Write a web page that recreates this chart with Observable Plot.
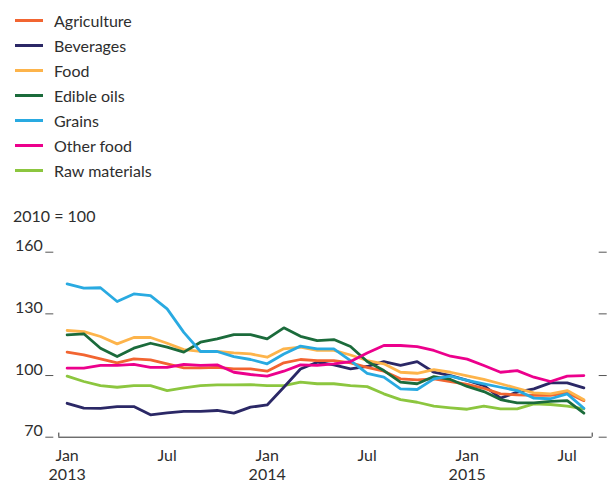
<!DOCTYPE html>
<html>
<head>
<meta charset="utf-8">
<script src="https://cdn.jsdelivr.net/npm/d3@7"></script>
<script src="https://cdn.jsdelivr.net/npm/@observablehq/plot@0.6"></script>
<style>
  body { margin: 0; background: #fff; font-family: Lato, "Open Sans", sans-serif; color: #2e2e2e; }
  #wrap { position: relative; width: 610px; height: 484px; overflow: hidden; }
  #legend { position: absolute; left: 15px; top: 8px; }
  .row { height: 25px; display: flex; align-items: center; font-size: 16px; }
  .sw { width: 28px; height: 3px; margin-right: 11px; }
  #note { position: absolute; left: 13px; top: 206px; font-size: 16px; line-height: 20px; }
  #chart { position: absolute; left: 0; top: 230px; }
</style>
</head>
<body>
<div id="wrap">
  <div id="legend"></div>
  <div id="note">2010 = 100</div>
  <div id="chart"></div>
</div>
<script>
// Monthly, Jan 2013 .. Aug 2015 (index 0..31)
const months = ["2013-01","2013-02","2013-03","2013-04","2013-05","2013-06","2013-07","2013-08","2013-09","2013-10","2013-11","2013-12",
  "2014-01","2014-02","2014-03","2014-04","2014-05","2014-06","2014-07","2014-08","2014-09","2014-10","2014-11","2014-12",
  "2015-01","2015-02","2015-03","2015-04","2015-05","2015-06","2015-07","2015-08"];

const agriculture = [111.4,110,108.1,106.2,108.1,107.6,105.7,103.7,103.7,104,103.2,103.2,102.1,106.2,107.8,107.3,107.3,106.2,104,102.1,98.4,97.9,98.4,97.1,95.7,93.8,91.1,90.6,90.3,90.3,91.6,87.8];
const beverages = [86.5,84.1,84,84.9,84.9,80.9,81.8,82.6,82.6,83,81.7,84.6,85.7,94.3,103.2,106.5,105.2,103.2,104.4,106.8,104.9,106.8,101.6,100,97.6,95.1,89,91.9,93.5,96.4,96.4,94];
const food = [121.9,121.4,119,115.4,118.5,118.5,115.7,112.6,111.7,111.7,111,110.5,108.9,113,113.8,112.2,112.2,110,107.3,105.7,101.6,101.1,102.9,101.6,99.8,98.1,96,93.8,91.6,91.1,92.7,88.2];
const edibleOils = [119.8,120.3,113.3,109.2,113.3,115.7,113.8,111.4,116.2,117.8,119.9,119.9,117.8,123.2,119.1,117,117.5,114.1,106.8,102.4,96.8,96,99.5,98.1,94.7,92.2,88.3,86.7,86.7,87.4,87.8,81.7];
const grains = [144.6,142.5,142.7,136,139.7,138.9,132.4,121,111.7,111.7,109.2,107.8,105.7,110.5,114.3,113,113,107.3,101.1,99.2,93.5,93.2,98.4,99.7,97.6,96,94.3,92.7,89,88.7,91.1,84.1];
const otherFood = [103.6,103.6,104.9,104.9,105.4,104,104,105.4,104.9,105.2,101.6,100.5,99.7,102.1,105.2,104.9,105.7,106.8,111,114.6,114.6,114.1,112.2,109.4,108,104.9,101.6,102.4,99.2,97.1,99.7,100];
const rawMaterials = [99.7,97.1,95.1,94.3,95.1,95.1,92.7,94,95.1,95.5,95.5,95.6,95.1,95.1,96.8,96,96,95.1,94.6,91.1,88.3,87,85.1,84.3,83.6,85.1,83.8,83.8,86.2,85.9,85.1,83.8];

const seriesNames = ["Agriculture","Beverages","Food","Edible oils","Grains","Other food","Raw materials"];
const seriesValues = [agriculture, beverages, food, edibleOils, grains, otherFood, rawMaterials];
const seriesColors = ["#f26531","#2b2866","#fdb44b","#1b6b3b","#29aae1","#ec008c","#8cc63f"];
const drawOrder = ["Raw materials","Beverages","Agriculture","Food","Edible oils","Grains","Other food"];

const yTicks = [70, 100, 130, 160];
const xTickIndex = [0, 6, 12, 18, 24, 30];
const xTickLabels = ["Jan\n2013","Jul","Jan\n2014","Jul","Jan\n2015","Jul"];

// Legend (HTML)
const legend = document.getElementById("legend");
seriesNames.forEach((n, i) => {
  const row = document.createElement("div");
  row.className = "row";
  const sw = document.createElement("div");
  sw.className = "sw";
  sw.style.background = seriesColors[i];
  const t = document.createElement("span");
  t.textContent = n;
  row.appendChild(sw); row.appendChild(t);
  legend.appendChild(row);
});

const data = [];
drawOrder.forEach(name => {
  const k = seriesNames.indexOf(name);
  seriesValues[k].forEach((v, i) => data.push({series: name, i, month: months[i], value: v}));
});

const ink = "#2e2e2e";
const chart = Plot.plot({
  width: 610,
  height: 254,
  marginTop: 21.7,
  marginBottom: 47.3,
  marginLeft: 58.3,
  marginRight: 18.3,
  style: {fontFamily: "Lato, 'Open Sans', sans-serif", fontSize: "16px", color: ink, background: "white"},
  x: {type: "linear", domain: [-0.5, months.length - 0.5]},
  y: {domain: [70, 160]},
  color: {domain: seriesNames, range: seriesColors},
  marks: [
    Plot.axisY({anchor: "left", ticks: yTicks, tickSize: 8, dx: -5, fill: "none", stroke: "#555", label: null}),
    Plot.axisY({anchor: "left", ticks: yTicks, tickSize: 0, tickPadding: 16, dy: -6, fill: ink, label: null}),
    Plot.axisY({anchor: "right", ticks: yTicks, tickSize: 8, dx: 6, fill: "none", stroke: "#555", label: null}),
    Plot.axisX({ticks: xTickIndex, tickSize: 0, tickPadding: 11, lineHeight: 1.15,
      tickFormat: d => xTickLabels[xTickIndex.indexOf(d)], fill: ink, label: null}),
    Plot.ruleY([70], {stroke: ink, strokeWidth: 1}),
    Plot.ruleX([-0.5, months.length - 0.5], {y1: 70, y2: 72, stroke: ink, strokeWidth: 1}),
    Plot.line(data, {x: "i", y: "value", z: "series", stroke: "series", strokeWidth: 2.8, strokeLinejoin: "round"})
  ]
});
document.getElementById("chart").appendChild(chart);
</script>
</body>
</html>
